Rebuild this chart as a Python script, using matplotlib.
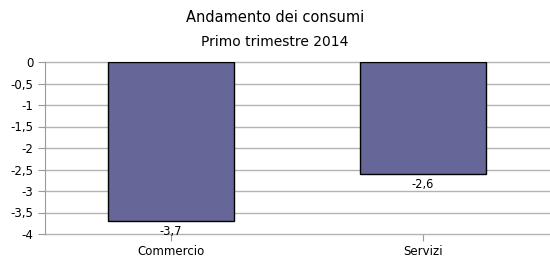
import matplotlib
matplotlib.use("Agg")
import matplotlib.pyplot as plt
from matplotlib.ticker import FuncFormatter

categories = ["Commercio", "Servizi"]
values = [-3.7, -2.6]
yticks = [0, -0.5, -1, -1.5, -2, -2.5, -3, -3.5, -4]


def it_num(v):
    s = f"{v:g}"
    return s.replace(".", ",")


fig = plt.figure(figsize=(5.5, 2.65), dpi=100)
ax = fig.add_axes([45 / 550, 1 - 234 / 265, 504 / 550, 172 / 265])

x = list(range(len(categories)))
ax.bar(x, values, width=0.5, color="#666699", edgecolor="black", linewidth=1, zorder=3)

for xi, v in zip(x, values):
    ax.annotate(it_num(v), (xi, v), xytext=(0, -3), textcoords="offset points",
                ha="center", va="top", fontsize=8.3, color="black", zorder=4)

ax.set_xlim(-0.5, len(categories) - 0.5)
ax.set_ylim(-4, 0)
ax.set_yticks(yticks)
ax.yaxis.set_major_formatter(FuncFormatter(lambda v, p: it_num(v)))
ax.set_xticks(x)
ax.set_xticklabels(categories)
ax.tick_params(axis="both", labelsize=8.5, color="#999999", length=5, width=0.8)
ax.tick_params(axis="x", pad=3)
ax.grid(axis="y", color="#b3b3b3", linewidth=1, zorder=0)
for gl in ax.get_ygridlines():
    gl.set_clip_on(False)

for side in ["top", "right", "bottom"]:
    ax.spines[side].set_visible(False)
ax.spines["left"].set_color("#999999")

fig.text(0.5, 1 - 18 / 265, "Andamento dei consumi", ha="center", va="center", fontsize=10.5)
fig.text(0.5, 1 - 42 / 265, "Primo trimestre 2014", ha="center", va="center", fontsize=10)

fig.savefig("out.png", dpi=100)
